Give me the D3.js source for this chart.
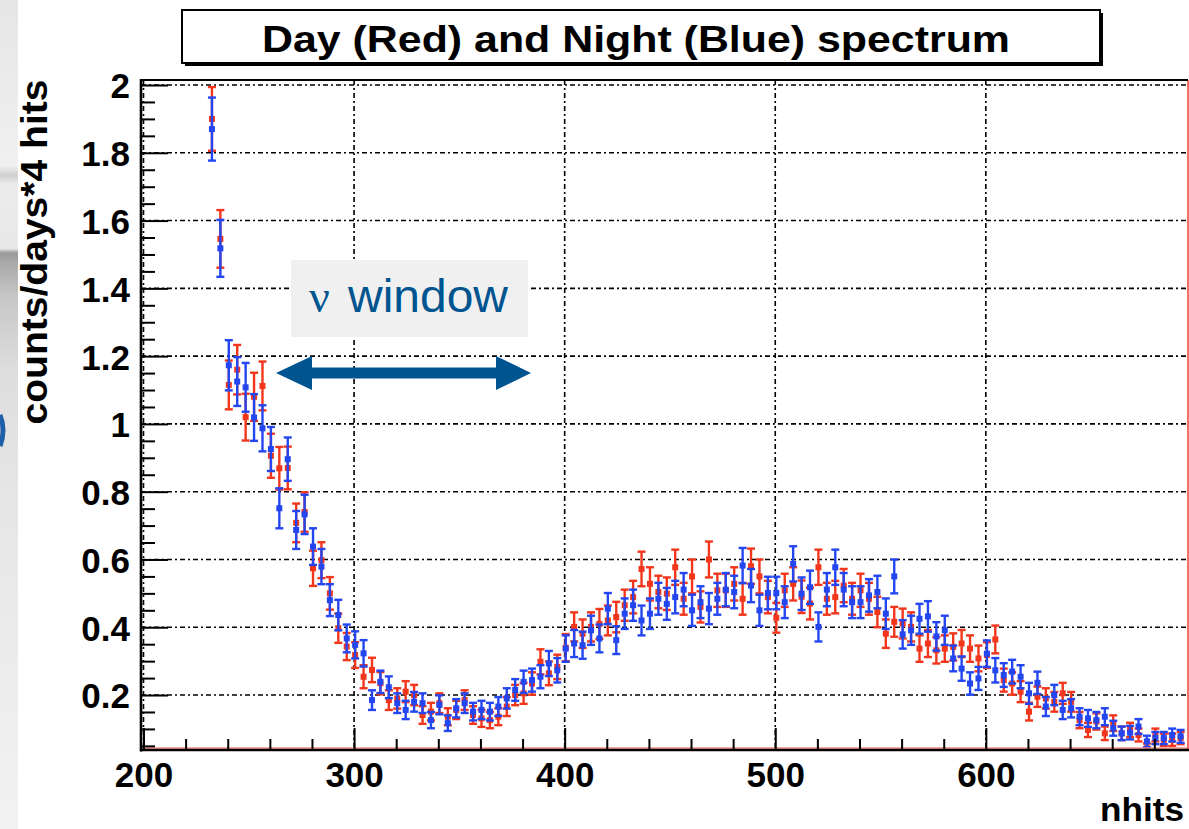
<!DOCTYPE html>
<html><head><meta charset="utf-8">
<script src="https://cdn.jsdelivr.net/npm/d3@7"></script>
<style>html,body{margin:0;padding:0;background:#fff;overflow:hidden}</style>
</head><body><svg id="c" width="1189" height="829"></svg>
<script>
// ---- data ----
const nhitsBins = d3.range(232.5, 694, 4); // bin centers, 4 hits wide
const dayValues = [1.90,1.546,1.115,1.16,1.02,1.08,1.112,0.906,0.869,0.87,
0.708,0.74,0.574,0.598,0.50,0.397,0.343,0.318,0.254,0.274,
0.235,0.185,0.19,0.21,0.20,0.141,0.151,0.176,0.136,0.156,
0.185,0.141,0.131,0.126,0.136,0.166,0.20,0.205,0.234,0.298,
0.264,0.283,0.34,0.401,0.381,0.401,0.41,0.42,0.43,0.465,
0.489,0.572,0.528,0.504,0.499,0.577,0.484,0.55,0.46,0.60,
0.509,0.509,0.528,0.484,0.58,0.55,0.489,0.428,0.509,0.528,
0.49,0.47,0.577,0.484,0.489,0.523,0.484,0.509,0.484,0.445,
0.381,0.416,0.411,0.401,0.337,0.352,0.332,0.337,0.342,0.352,
0.337,0.308,0.318,0.364,0.244,0.234,0.21,0.151,0.195,0.19,
0.18,0.205,0.18,0.126,0.097,0.122,0.087,0.117,0.087,0.097,
0.082,0.043,0.082,0.068,0.068,0.073];
const dayErrors = [0.094,0.085,0.072,0.073,0.069,0.071,0.072,0.065,0.063,0.063,
0.057,0.058,0.052,0.053,0.048,0.043,0.040,0.038,0.034,0.036,
0.033,0.029,0.030,0.031,0.030,0.026,0.026,0.029,0.025,0.027,
0.029,0.026,0.025,0.024,0.025,0.028,0.030,0.031,0.033,0.037,
0.035,0.036,0.040,0.043,0.042,0.043,0.044,0.044,0.045,0.046,
0.048,0.051,0.049,0.048,0.048,0.052,0.047,0.050,0.046,0.053,
0.049,0.049,0.049,0.047,0.052,0.050,0.048,0.044,0.049,0.049,
0.048,0.047,0.052,0.047,0.048,0.049,0.047,0.049,0.047,0.045,
0.042,0.044,0.044,0.043,0.039,0.040,0.039,0.039,0.040,0.040,
0.039,0.038,0.038,0.041,0.034,0.033,0.031,0.026,0.030,0.030,
0.029,0.031,0.029,0.024,0.021,0.024,0.020,0.023,0.020,0.021,
0.019,0.014,0.019,0.018,0.018,0.018];
const nightValues = [1.87,1.518,1.173,1.125,1.108,1.019,0.987,0.926,0.751,0.896,
0.687,0.733,0.638,0.579,0.48,0.436,0.367,0.348,0.323,0.185,
0.239,0.223,0.176,0.156,0.18,0.176,0.126,0.171,0.117,0.161,
0.176,0.151,0.156,0.151,0.166,0.19,0.215,0.239,0.244,0.254,
0.293,0.273,0.337,0.352,0.347,0.391,0.367,0.455,0.362,0.44,
0.465,0.42,0.44,0.484,0.469,0.489,0.511,0.45,0.474,0.455,
0.484,0.511,0.504,0.582,0.523,0.45,0.501,0.501,0.474,0.587,
0.499,0.518,0.401,0.511,0.577,0.511,0.474,0.474,0.494,0.504,
0.44,0.55,0.379,0.391,0.425,0.432,0.373,0.391,0.308,0.278,
0.234,0.249,0.322,0.273,0.259,0.269,0.254,0.205,0.236,0.166,
0.20,0.156,0.161,0.136,0.131,0.126,0.136,0.102,0.087,0.089,
0.107,0.063,0.073,0.073,0.082,0.078];
const nightErrors = [0.093,0.084,0.074,0.072,0.072,0.069,0.068,0.065,0.059,0.064,
0.056,0.058,0.054,0.052,0.047,0.045,0.041,0.040,0.039,0.029,
0.033,0.032,0.029,0.027,0.029,0.029,0.024,0.028,0.023,0.027,
0.029,0.026,0.027,0.026,0.028,0.030,0.032,0.033,0.034,0.034,
0.037,0.036,0.039,0.040,0.040,0.043,0.041,0.046,0.041,0.045,
0.046,0.044,0.045,0.047,0.047,0.048,0.049,0.046,0.047,0.046,
0.047,0.049,0.048,0.052,0.049,0.046,0.048,0.048,0.047,0.052,
0.048,0.049,0.043,0.049,0.052,0.049,0.047,0.047,0.048,0.048,
0.045,0.050,0.042,0.043,0.044,0.045,0.042,0.043,0.038,0.036,
0.033,0.034,0.039,0.036,0.035,0.035,0.034,0.031,0.033,0.028,
0.030,0.027,0.027,0.025,0.025,0.024,0.025,0.022,0.020,0.020,
0.022,0.017,0.018,0.018,0.019,0.019];
const xTickLabels = [200,300,400,500,600];
const xMinorTicks = [220,240,260,280,320,340,360,380,420,440,460,480,520,540,560,580,620,640,660,680];
const yTickLabels = [0.2,0.4,0.6,0.8,1,1.2,1.4,1.6,1.8,2];
const yMinorTicks = [0.05,0.1,0.15,0.25,0.3,0.35,0.45,0.5,0.55,0.65,0.7,0.75,0.85,0.9,0.95,1.05,1.1,1.15,1.25,1.3,1.35,1.45,1.5,1.55,1.65,1.7,1.75,1.85,1.9,1.95];
const titleText = "Day (Red) and Night (Blue) spectrum";
const yTitle = "counts/days*4 hits";
const xTitle = "nhits";

// ---- drawing ----
const svg = d3.select("#c");
const FONT = "'Liberation Sans', Arial, Helvetica, sans-serif";
const L = 141, R = 1188, T = 80, B = 750;
const x = d3.scaleLinear().domain([200, 696]).range([143.5, 1188]);
const y = d3.scaleLinear().domain([0.0378, 2.0148]).range([B, T]);

svg.append("rect").attr("width",1189).attr("height",829).attr("fill","#fff");

// left slide background strip
const defs = svg.append("defs");
const g1 = defs.append("linearGradient").attr("id","strip").attr("x1",0).attr("x2",0).attr("y1",0).attr("y2",1);
[[0,"#e6e6e6"],[0.2,"#f0f0f0"],[0.212,"#cfcfcf"],[0.222,"#ececec"],[0.3,"#e8e8e8"],[0.305,"#9a9a9a"],[0.316,"#a8a8a8"],
 [0.36,"#c8c8c8"],[0.45,"#dedede"],[0.6,"#e6e6e6"],[1,"#f2f2f2"]].forEach(s=>g1.append("stop").attr("offset",s[0]).attr("stop-color",s[1]));
svg.append("rect").attr("x",0).attr("y",0).attr("width",18).attr("height",829).attr("fill","url(#strip)");
svg.append("path").attr("d","M0,415 Q6,430 0,446").attr("fill","none").attr("stroke","#1f5fa8").attr("stroke-width",5);

// title box
svg.append("rect").attr("x",185).attr("y",13).attr("width",918).attr("height",53).attr("fill","#000");
svg.append("rect").attr("x",182).attr("y",10).attr("width",918).attr("height",53).attr("fill","#fff").attr("stroke","#000").attr("stroke-width",2);
svg.append("text").attr("x",636).attr("y",52).attr("text-anchor","middle")
  .attr("font-family",FONT).attr("font-weight","bold").attr("font-size",37)
  .attr("textLength",748).attr("lengthAdjust","spacingAndGlyphs").text(titleText);

// grid
const grid = svg.append("g").attr("stroke","#000").attr("stroke-width",1.6).attr("stroke-dasharray","5,3,2,3");
grid.selectAll("line.h").data(yTickLabels).join("line").attr("class","h")
  .attr("x1",L).attr("x2",R).attr("y1",d=>y(d)).attr("y2",d=>y(d));
grid.selectAll("line.v").data(xTickLabels).join("line").attr("class","v")
  .attr("x1",d=>x(d)).attr("x2",d=>x(d)).attr("y1",T).attr("y2",B);

// annotation: nu window
svg.append("rect").attr("x",291).attr("y",260).attr("width",237).attr("height",77).attr("fill","#f0f0f0");
const ann = svg.append("text").attr("y",312).attr("fill","#00548f").attr("font-size",46);
ann.append("tspan").attr("x",309).attr("font-family","'Liberation Serif','DejaVu Serif',serif").text("ν");
ann.append("tspan").attr("x",348).attr("font-family",FONT).attr("textLength",160).attr("lengthAdjust","spacingAndGlyphs").text("window");
svg.append("path").attr("fill","#00548f")
  .attr("d",`M276,373 L312,356 L312,367.5 L496,367.5 L496,356 L531,373 L496,390 L496,378.5 L312,378.5 L312,390 Z`);

// data
const clip = defs.append("clipPath").attr("id","pc");
clip.append("rect").attr("x",L).attr("y",T).attr("width",R-L).attr("height",B-T);
function drawSeries(vals, errs, color){
  const g = svg.append("g").attr("clip-path","url(#pc)");
  const pts = nhitsBins.map((n,i)=>({n, v:vals[i], e:errs[i]}));
  const gs = g.selectAll("g").data(pts).join("g").attr("stroke",color).attr("stroke-width",2.4);
  gs.append("line").attr("x1",d=>x(d.n)).attr("x2",d=>x(d.n)).attr("y1",d=>y(d.v-d.e)).attr("y2",d=>y(d.v+d.e));
  gs.append("line").attr("x1",d=>x(d.n)-4).attr("x2",d=>x(d.n)+4).attr("y1",d=>y(d.v+d.e)).attr("y2",d=>y(d.v+d.e));
  gs.append("line").attr("x1",d=>x(d.n)-4).attr("x2",d=>x(d.n)+4).attr("y1",d=>y(d.v-d.e)).attr("y2",d=>y(d.v-d.e));
  g.selectAll("rect").data(pts).join("rect").attr("x",d=>x(d.n)-3).attr("y",d=>y(d.v)-3)
    .attr("width",6).attr("height",6).attr("fill",color);
}
drawSeries(dayValues, dayErrors, "#f2361c");
drawSeries(nightValues, nightErrors, "#2346f0");

// thin red histogram lines at bottom / right
svg.append("line").attr("x1",L).attr("x2",R).attr("y1",748).attr("y2",748).attr("stroke","#f58a80").attr("stroke-width",1.5);
svg.append("line").attr("x1",R).attr("x2",R).attr("y1",T).attr("y2",B).attr("stroke","#f04030").attr("stroke-width",1.5);

// axes
const axY = svg.append("g").attr("transform",`translate(${L},0)`);
axY.call(d3.axisLeft(y).tickValues(yTickLabels).tickSize(-27).tickPadding(11).tickFormat(d=>String(+d.toFixed(1))));
const axYm = svg.append("g").attr("transform",`translate(${L},0)`);
axYm.call(d3.axisLeft(y).tickValues(yMinorTicks).tickSize(-14).tickFormat(""));
const axX = svg.append("g").attr("transform",`translate(0,${B})`);
axX.call(d3.axisBottom(x).tickValues(xTickLabels).tickSize(-22).tickPadding(12).tickFormat(d3.format("d")));
const axXm = svg.append("g").attr("transform",`translate(0,${B})`);
axXm.call(d3.axisBottom(x).tickValues(xMinorTicks).tickSize(-11).tickFormat(""));
svg.selectAll(".domain").remove();
svg.selectAll(".tick line").attr("stroke","#000").attr("stroke-width",2);
svg.selectAll(".tick text").attr("font-family",FONT).attr("font-weight","bold").attr("font-size",35).attr("fill","#000");
axY.selectAll(".tick text").attr("dy","0.37em");

// frame
svg.append("line").attr("x1",L).attr("x2",R).attr("y1",T).attr("y2",T).attr("stroke","#000").attr("stroke-width",2);
svg.append("line").attr("x1",L).attr("x2",L).attr("y1",T-1).attr("y2",B+1.5).attr("stroke","#000").attr("stroke-width",2.6);
svg.append("line").attr("x1",L-1).attr("x2",R+1).attr("y1",B).attr("y2",B).attr("stroke","#000").attr("stroke-width",2.6);

// axis titles
svg.append("text").attr("transform","translate(47,252) rotate(-90)").attr("text-anchor","middle")
  .attr("font-family",FONT).attr("font-weight","bold").attr("font-size",36)
  .attr("textLength",345).attr("lengthAdjust","spacingAndGlyphs").text(yTitle);
svg.append("text").attr("x",1100).attr("y",821).attr("font-family",FONT).attr("font-weight","bold")
  .attr("font-size",33).attr("textLength",84).attr("lengthAdjust","spacingAndGlyphs").text(xTitle);
</script></body></html>
